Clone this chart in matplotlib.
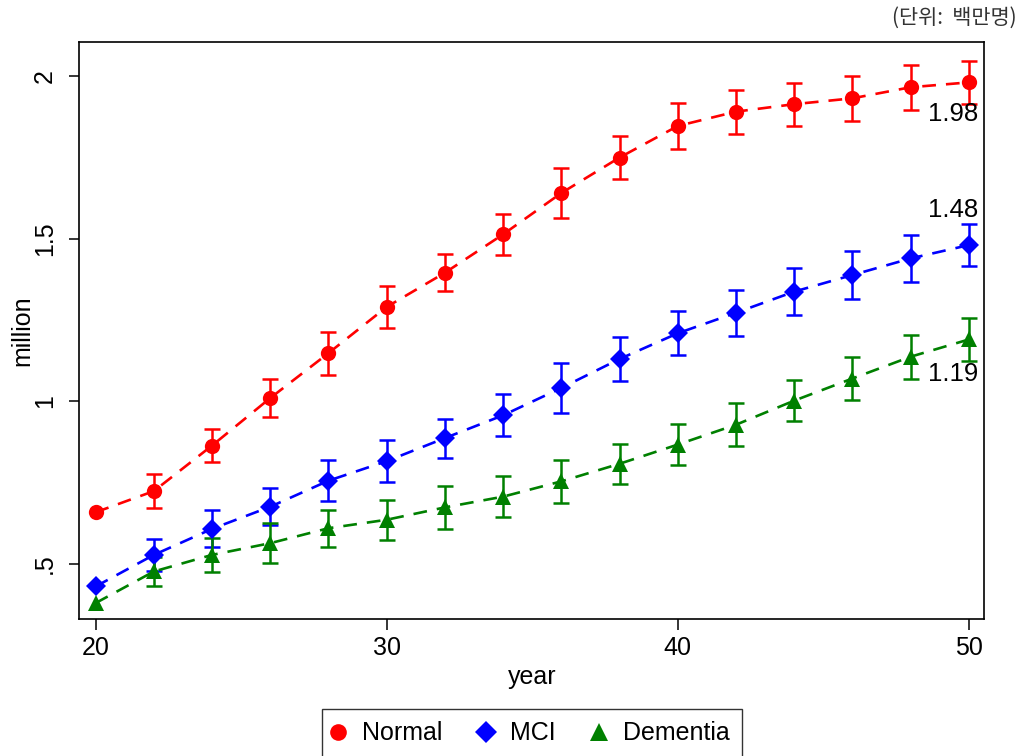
import numpy as np
import matplotlib
matplotlib.use('Agg')
import matplotlib.pyplot as plt
from matplotlib.lines import Line2D

years = [20, 22, 24, 26, 28, 30, 32, 34, 36, 38, 40, 42, 44, 46, 48, 50]

normal = [0.659, 0.724, 0.864, 1.010, 1.148, 1.290, 1.395, 1.513,
          1.640, 1.749, 1.846, 1.890, 1.913, 1.931, 1.965, 1.98]
normal_err = [0.0, 0.052, 0.052, 0.057, 0.066, 0.064, 0.057, 0.064,
              0.076, 0.067, 0.072, 0.068, 0.066, 0.069, 0.069, 0.065]

mci = [0.431, 0.528, 0.608, 0.676, 0.756, 0.816, 0.887, 0.957,
       1.041, 1.130, 1.209, 1.272, 1.337, 1.388, 1.439, 1.48]
mci_err = [0.0, 0.048, 0.057, 0.057, 0.063, 0.064, 0.060, 0.065,
           0.077, 0.068, 0.068, 0.070, 0.073, 0.074, 0.073, 0.064]

dementia = [0.380, 0.477, 0.528, 0.564, 0.610, 0.636, 0.674, 0.707,
            0.754, 0.808, 0.867, 0.928, 1.002, 1.070, 1.137, 1.19]
dementia_err = [0.0, 0.045, 0.052, 0.061, 0.057, 0.061, 0.067, 0.063,
                0.065, 0.061, 0.064, 0.066, 0.063, 0.066, 0.068, 0.066]

names = ['Normal', 'MCI', 'Dementia']
colors = ['#ff0000', '#0000ff', '#008000']
markers = ['o', 'D', '^']
sizes = [11, 10.5, 12]
label_offsets = [-22.5, 25, -25]

plt.rcParams['font.family'] = ['Liberation Sans', 'DejaVu Sans']

fig = plt.figure(figsize=(10.22, 7.56), dpi=100)
ax = fig.add_axes([0.0776, 0.1812, 0.8855, 0.7628])

series = [(normal, normal_err), (mci, mci_err), (dementia, dementia_err)]
x = np.array(years)
for (vals, err), c, m, ms, dy in zip(series, colors, markers, sizes, label_offsets):
    vals = np.array(vals)
    err = np.array(err)
    ax.errorbar(x[1:], vals[1:], yerr=err[1:], fmt='none', ecolor=c,
                elinewidth=1.8, capsize=5.5, capthick=1.8, zorder=2)
    ax.plot(x, vals, color=c, lw=1.9, linestyle=(0, (5.2, 3.8)),
            marker=m, markersize=ms, markeredgewidth=0, zorder=3)
    ax.annotate('%.2f' % vals[-1], xy=(x[-1], vals[-1]), xytext=(7, dy),
                textcoords='offset points', ha='right', va='center',
                fontsize=18.5)

ax.set_xlim(19.44, 50.53)
ax.set_ylim(0.331, 2.103)
ax.set_xticks([20, 30, 40, 50])
ax.set_yticks([0.5, 1, 1.5, 2])
ax.set_yticklabels(['.5', '1', '1.5', '2'], rotation=90, va='center')
ax.tick_params(axis='both', direction='out', width=1.1, labelsize=18, colors='black')
ax.tick_params(axis='x', length=8, pad=4)
ax.tick_params(axis='y', length=7, pad=9)
for s in ax.spines.values():
    s.set_linewidth(1.2)
    s.set_color('black')

ax.set_xlabel('year', fontsize=18, va='center')
ax.xaxis.set_label_coords(0.5, -0.1006)
ax.set_ylabel('million', fontsize=18, va='center')
ax.yaxis.set_label_coords(-0.0633, 0.5)

handles = [Line2D([], [], color=c, marker=m, linestyle='none', markersize=ms + 1,
                  markeredgewidth=0)
           for c, m, ms in zip(colors, markers, sizes)]
leg = fig.legend(handles, names, loc='upper center', ncol=3,
                 bbox_to_anchor=(531.8 / 1022, 1 - 709 / 756),
                 fontsize=18, frameon=True, fancybox=False, edgecolor='black',
                 borderpad=0.5, handlelength=0.3, handletextpad=0.8,
                 columnspacing=1.6, borderaxespad=0)
leg.get_frame().set_linewidth(1.0)

fig.text(1017 / 1022, 1 - 18 / 756, '(단위:  백만명)', ha='right', va='center',
         fontsize=15, color='#333333',
         family=['Noto Sans CJK KR', 'DejaVu Sans'])

fig.savefig('out.png', dpi=100, facecolor='white')
